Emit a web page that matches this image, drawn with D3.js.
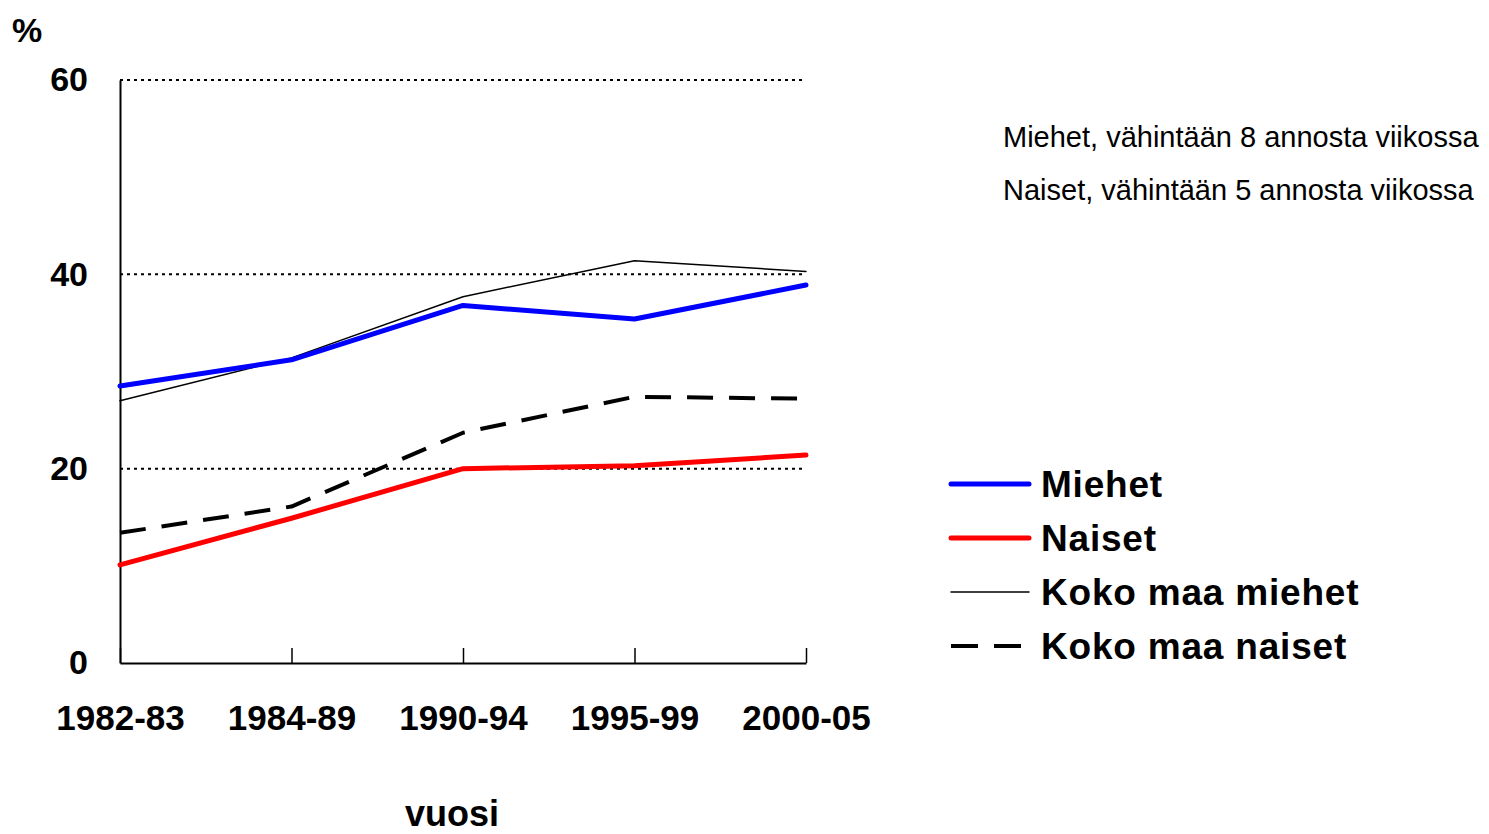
<!DOCTYPE html>
<html>
<head>
<meta charset="utf-8">
<script src="https://cdn.jsdelivr.net/npm/d3@7"></script>
<style>
  html, body { margin: 0; padding: 0; background: #fff; }
  svg { display: block; font-family: Arial, "Liberation Sans", sans-serif; }
</style>
</head>
<body>
<svg id="chart" width="1489" height="834"></svg>
<script>
const categories = ["1982-83", "1984-89", "1990-94", "1995-99", "2000-05"];
const miehet = [28.5, 31.2, 36.8, 35.4, 38.9];
const naiset = [10.1, 14.9, 20.0, 20.3, 21.4];
const kokoMaaMiehet = [27.0, 31.4, 37.7, 41.4, 40.3];
const kokoMaaNaiset = [13.4, 16.1, 23.7, 27.4, 27.2];
const yTicks = [0, 20, 40, 60];
const seriesNames = ["Miehet", "Naiset", "Koko maa miehet", "Koko maa naiset"];
const notes = ["Miehet, vähintään 8 annosta viikossa", "Naiset, vähintään 5 annosta viikossa"];

const svg = d3.select("#chart");
const plotLeft = 120, plotRight = 806, plotTop = 80, plotBottom = 663;

const x = d3.scalePoint().domain(categories).range([plotLeft, plotRight]);
const y = d3.scaleLinear().domain([0, 60]).range([plotBottom, plotTop]);

// gridlines
svg.append("g").selectAll("line").data(yTicks.filter(d => d > 0)).join("line")
  .attr("x1", plotLeft).attr("x2", plotRight)
  .attr("y1", d => y(d)).attr("y2", d => y(d))
  .attr("stroke", "#000").attr("stroke-width", 2).attr("stroke-dasharray", "3,4");

// y axis
const yAxis = svg.append("g").attr("transform", `translate(${plotLeft},0)`)
  .call(d3.axisLeft(y).tickValues(yTicks).tickSize(0).tickPadding(32));
yAxis.select(".domain").attr("stroke", "#000").attr("stroke-width", 2);
yAxis.selectAll("text").attr("font-size", 34).attr("font-weight", "bold")
  .attr("font-family", "Arial, 'Liberation Sans', sans-serif").attr("fill", "#000");

// x axis
const xAxis = svg.append("g").attr("transform", `translate(0,${plotBottom})`)
  .call(d3.axisBottom(x).tickSize(-15).tickPadding(42).tickSizeOuter(0));
xAxis.select(".domain").attr("stroke", "#000").attr("stroke-width", 2);
xAxis.selectAll(".tick line").attr("stroke", "#000").attr("stroke-width", 1.5);
xAxis.selectAll("text").attr("font-size", 35).attr("font-weight", "bold")
  .attr("font-family", "Arial, 'Liberation Sans', sans-serif").attr("fill", "#000");

// axis titles
svg.append("text").attr("x", 12).attr("y", 42).text("%")
  .attr("font-size", 34).attr("font-weight", "bold");
svg.append("text").attr("x", 452).attr("y", 826).attr("text-anchor", "middle").text("vuosi")
  .attr("font-size", 36).attr("font-weight", "bold");

const line = d3.line().x((d, i) => x(categories[i])).y(d => y(d));
const styles = [
  { data: miehet, color: "#0000ff", width: 5, dash: null },
  { data: naiset, color: "#ff0000", width: 5, dash: null },
  { data: kokoMaaMiehet, color: "#000", width: 1.5, dash: null },
  { data: kokoMaaNaiset, color: "#000", width: 4, dash: "26,16" }
];
const drawOrder = [2, 3, 1, 0];
drawOrder.forEach(i => {
  const s = styles[i];
  svg.append("path").datum(s.data).attr("d", line)
    .attr("fill", "none").attr("stroke", s.color).attr("stroke-width", s.width)
    .attr("stroke-linejoin", "round").attr("stroke-linecap", s.dash ? "butt" : "round")
    .attr("stroke-dasharray", s.dash);
});

// legend
const lg = svg.append("g");
seriesNames.forEach((name, i) => {
  const yy = 484 + i * 54;
  const s = styles[i];
  lg.append("line").attr("x1", 951).attr("x2", 1029).attr("y1", yy).attr("y2", yy)
    .attr("stroke", s.color).attr("stroke-width", s.width)
    .attr("stroke-linecap", s.dash ? "butt" : "round")
    .attr("stroke-dasharray", s.dash ? "27,16" : null);
  lg.append("text").attr("x", 1041).attr("y", yy + 13).text(name)
    .attr("font-size", 37).attr("font-weight", "bold").attr("letter-spacing", 0.8);
});

// notes
notes.forEach((t, i) => {
  svg.append("text").attr("x", 1003).attr("y", 147 + i * 53).text(t)
    .attr("font-size", 29).attr("fill", "#000");
});
</script>
</body>
</html>
